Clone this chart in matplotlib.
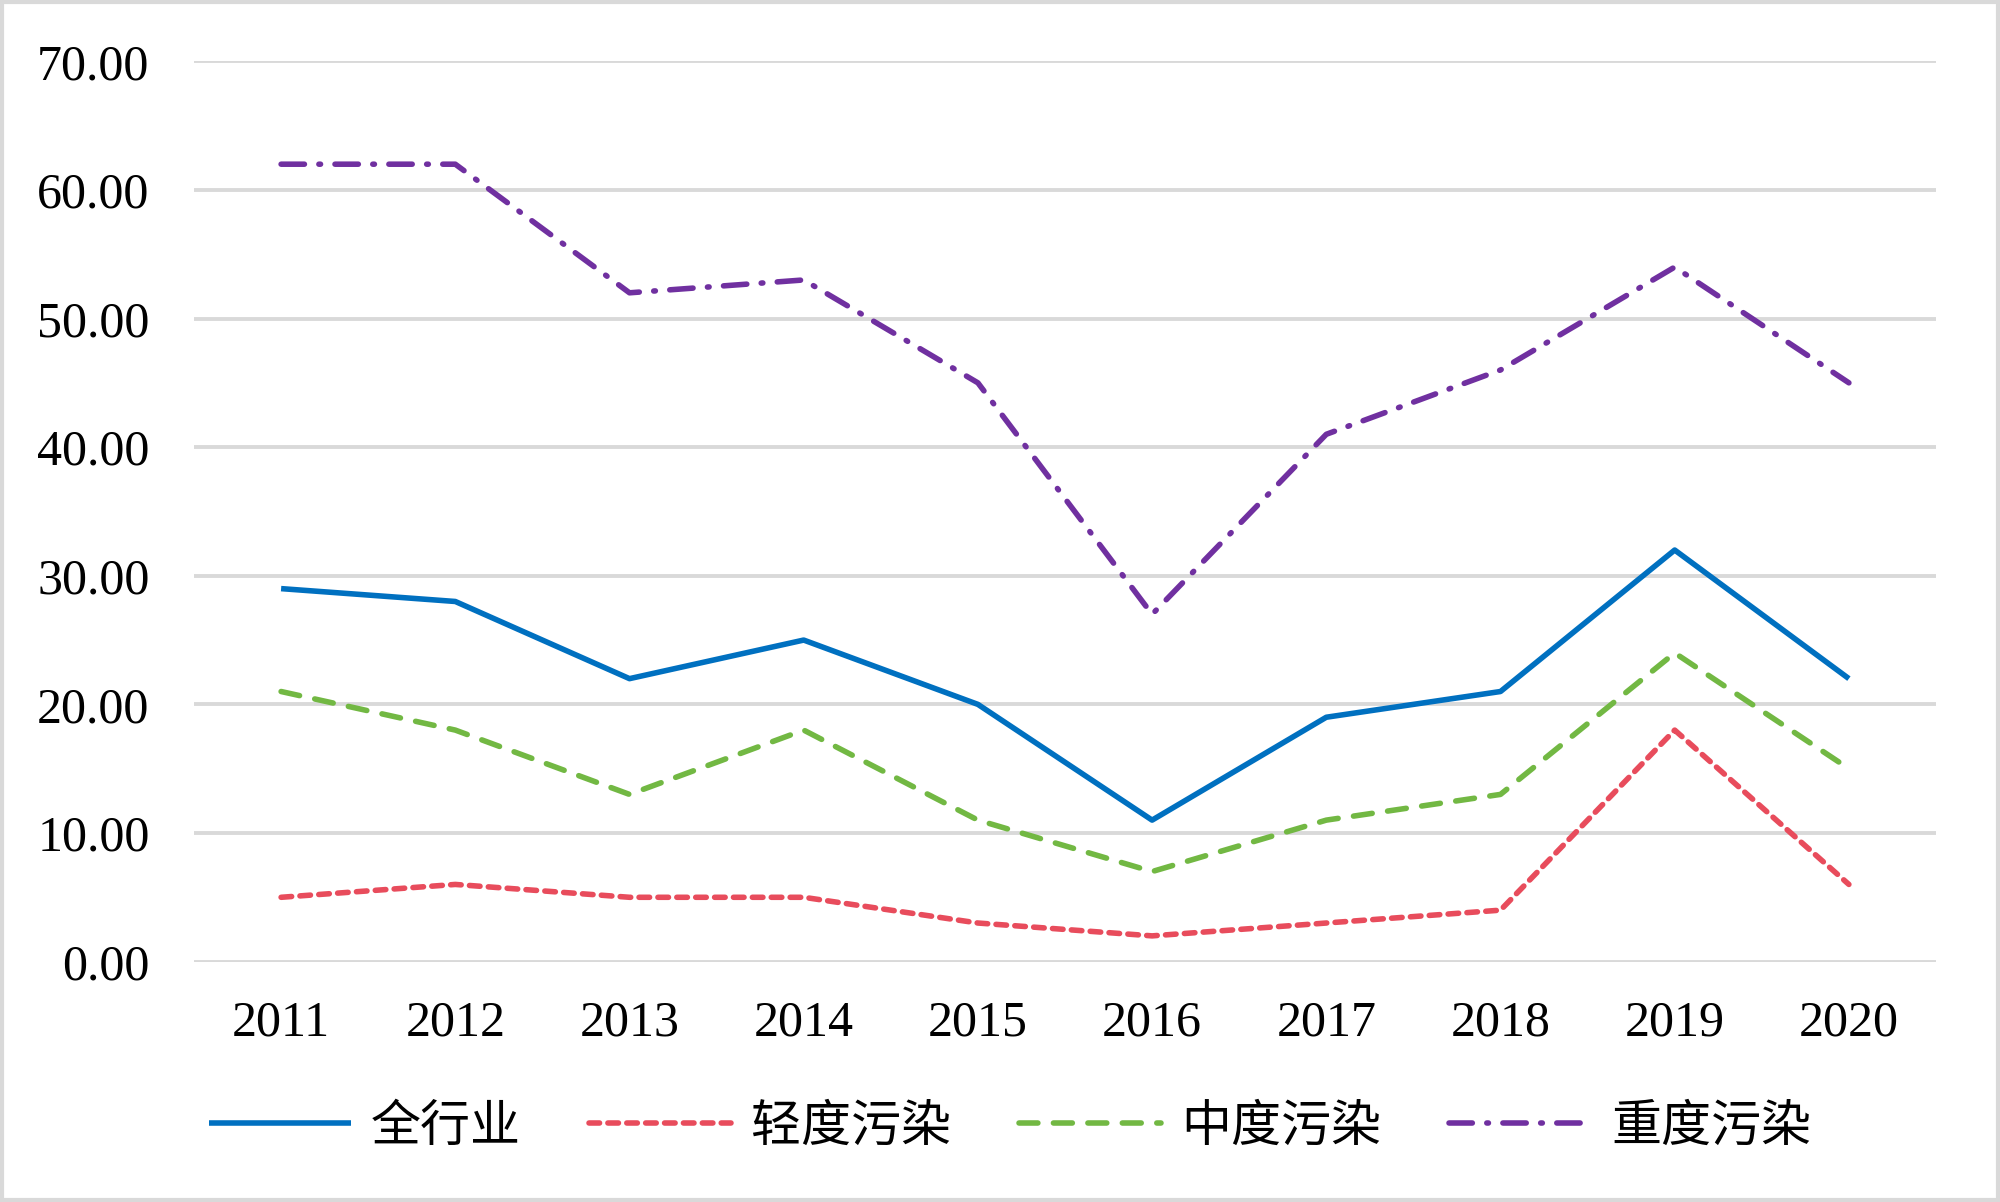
import matplotlib
matplotlib.use("Agg")
import matplotlib.pyplot as plt
from matplotlib.patches import Rectangle

years = ["2011", "2012", "2013", "2014", "2015", "2016", "2017", "2018", "2019", "2020"]
all_industry = [29, 28, 22, 25, 20, 11, 19, 21, 32, 22]
light = [5, 6, 5, 5, 3, 2, 3, 4, 18, 6]
moderate = [21, 18, 13, 18, 11, 7, 11, 13, 24, 15]
heavy = [62, 62, 52, 53, 45, 27, 41, 46, 54, 45]
series_names = ["全行业", "轻度污染", "中度污染", "重度污染"]
yticks = [0, 10, 20, 30, 40, 50, 60, 70]

fam = ["Liberation Serif", "Noto Sans CJK SC", "DejaVu Sans"]
plt.rcParams["font.family"] = fam

fig = plt.figure(figsize=(10, 6.01), dpi=200)
ax = fig.add_axes([0.097, 0.2, 0.871, 0.749])

x = list(range(len(years)))
lw = 2.0
ax.plot(x, all_industry, color="#0070C0", lw=lw, label=series_names[0], solid_capstyle="butt")
ax.plot(x, light, color="#E84C5C", lw=lw, linestyle=(0, (1.9, 1.5)), dash_capstyle="round", label=series_names[1])
ax.plot(x, moderate, color="#72B843", lw=lw, linestyle=(0, (3.4, 2.8)), dash_capstyle="round", label=series_names[2])
ax.plot(x, heavy, color="#7030A0", lw=lw, linestyle=(0, (4.2, 2.6, 0.3, 2.6)), dash_capstyle="round", label=series_names[3])

ax.set_xlim(-0.5, len(years) - 0.5)
ax.set_ylim(0, 70)
ax.set_yticks(yticks)
ax.set_yticklabels([f"{v:.2f}" for v in yticks])
ax.set_xticks(x)
ax.set_xticklabels(years)
ax.tick_params(axis="both", length=0, labelsize=18)
ax.tick_params(axis="y", pad=16)
ax.tick_params(axis="x", pad=14)
ax.grid(axis="y", color="#D9D9D9", lw=1.4)
ax.set_axisbelow(True)
for s in ax.spines.values():
    s.set_visible(False)

fig.legend(loc="center", bbox_to_anchor=(0.505, 0.061), ncol=4, frameon=False,
           fontsize=18, handlelength=2.85, handletextpad=0.4, columnspacing=1.35)

fig.patches.append(Rectangle((0.001, 0.002), 0.998, 0.996, transform=fig.transFigure,
                             fill=False, edgecolor="#D9D9D9", lw=1.5))

fig.savefig("out.png", dpi=200)
